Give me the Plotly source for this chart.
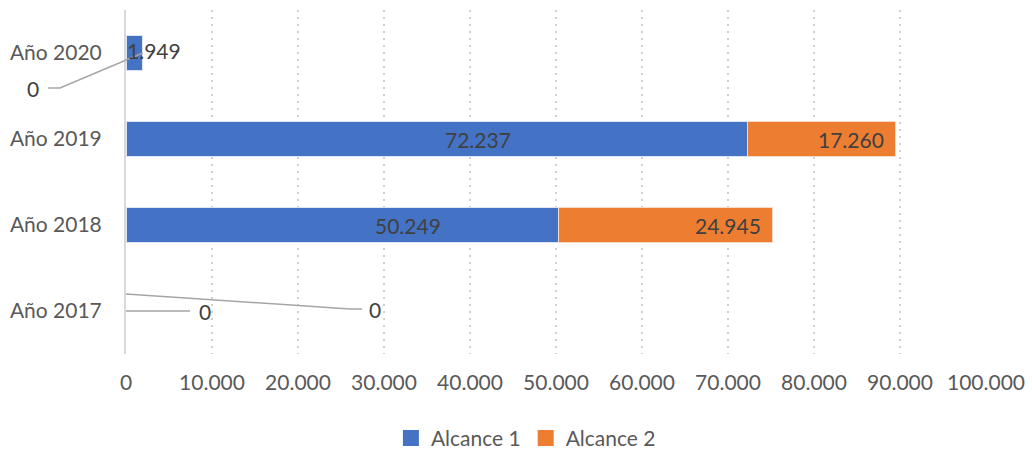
import plotly.graph_objects as go

categories = ["Año 2017", "Año 2018", "Año 2019", "Año 2020"]
alcance1 = [0, 50249, 72237, 1949]
alcance2 = [0, 24945, 17260, 0]
x_ticks = [0, 10000, 20000, 30000, 40000, 50000, 60000, 70000, 80000, 90000, 100000]

XMAX = 100000
BLUE = "#4472C4"
ORANGE = "#ED7D31"
FONT = "Lato"

def fmt(v):
    return f"{v:,}".replace(",", ".")

ypos = list(range(len(categories)))

fig = go.Figure()
for name, vals, col, edge in [("Alcance 1", alcance1, BLUE, "#dfe6f3"),
                              ("Alcance 2", alcance2, ORANGE, "#f8d9c5")]:
    fig.add_trace(go.Bar(name=name, y=ypos, x=vals, orientation="h",
                         marker=dict(color=col,
                                     line=dict(color=edge, width=[1 if v else 0 for v in vals])),
                         width=0.4, showlegend=False))
    fig.add_trace(go.Scatter(name=name, x=[None], y=[None], mode="markers",
                             marker=dict(symbol="square", size=16, color=col),
                             showlegend=True))

def pxp(x):
    return x / XMAX

def pyp(y):
    return (y + 0.5) / len(categories)

label_font = dict(family=FONT, size=21, color="#404040")
labels = [
    (alcance1[3], 3260, 3.03, "center"),
    (alcance2[3], -10810, 2.593, "center"),
    (alcance1[2], 40930, 2.0, "center"),
    (alcance2[2], alcance1[2] + alcance2[2] - 1150, 2.0, "right"),
    (alcance1[1], 32790, 1.0, "center"),
    (alcance2[1], alcance1[1] + alcance2[1] - 1150, 1.0, "right"),
    (alcance1[0], 9190, -0.01, "center"),
    (alcance2[0], 28950, 0.012, "center"),
]
for v, x, y, anc in labels:
    fig.add_annotation(x=pxp(x), y=pyp(y), xref="paper", yref="paper",
                       text=fmt(v), showarrow=False, xanchor=anc, yanchor="middle",
                       font=label_font)

leaders = [
    [(-9070, 2.593), (-7674, 2.593), (alcance1[3] + alcance2[3], 3.0)],
    [(0, 0.0), (7440, 0.0)],
    [(0, 0.198), (26050, 0.023), (27440, 0.023)],
]
for pts in leaders:
    path = "M " + " L ".join(f"{pxp(x)},{pyp(y)}" for x, y in pts)
    fig.add_shape(type="path", path=path, xref="paper", yref="paper",
                  line=dict(color="#a6a6a6", width=1.5))

fig.update_layout(
    barmode="stack",
    width=1032, height=453,
    margin=dict(l=126, r=46, t=10, b=99, autoexpand=False),
    paper_bgcolor="white", plot_bgcolor="white",
    separators=",.",
    font=dict(family=FONT, size=21, color="#595959"),
    showlegend=True,
    legend=dict(orientation="h", x=0.465, xanchor="center", y=-0.245, yanchor="middle",
                font=dict(family=FONT, size=21, color="#595959"),
                traceorder="normal", itemwidth=30),
    xaxis=dict(range=[0, XMAX], tickvals=x_ticks, tickformat=",d",
               showgrid=True, gridcolor="#d0d0d0", gridwidth=2, griddash="2px,5px",
               zeroline=False, showline=False, ticks="", ticklabelstandoff=14),
    yaxis=dict(range=[-0.5, 3.5], tickvals=ypos, ticktext=categories,
               showgrid=False, zeroline=False, showline=True, linecolor="#d9d9d9",
               linewidth=2, ticks="", ticklabelstandoff=18),
)

fig.write_html("out.html")
